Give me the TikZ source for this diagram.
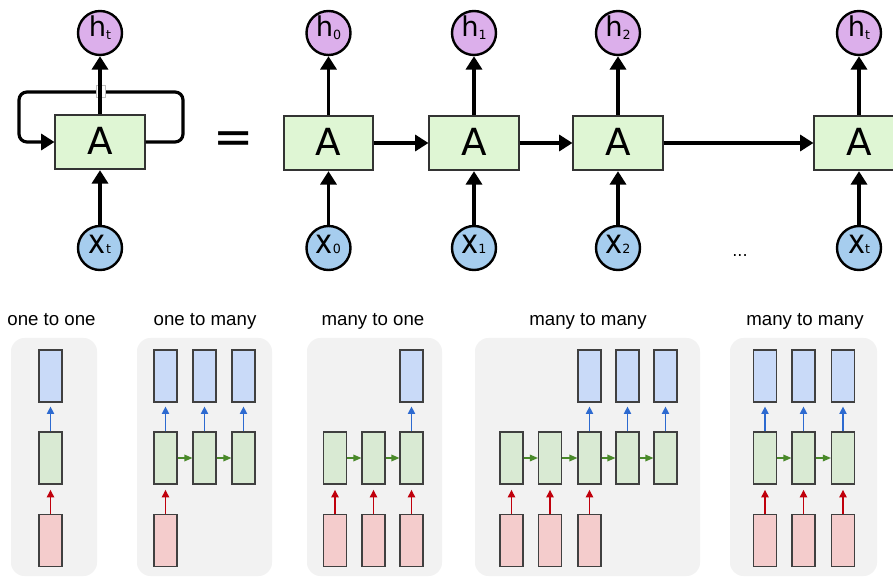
\documentclass[tikz,border=0pt]{standalone}
\usepackage{fontspec}
\setmainfont{DejaVu Sans}
\newfontfamily\capfont{Liberation Sans}
\usetikzlibrary{arrows.meta}

\definecolor{cellA}{HTML}{DFF6D4}
\definecolor{hcol}{HTML}{DCAFEB}
\definecolor{xcol}{HTML}{A6CDEE}
\definecolor{panelgray}{HTML}{F2F2F2}
\definecolor{outfill}{HTML}{C9DAF8}
\definecolor{midfill}{HTML}{D9EAD3}
\definecolor{infill}{HTML}{F4CCCC}
\definecolor{outarrow}{HTML}{2D6AD0}
\definecolor{inarrow}{HTML}{C0000C}
\definecolor{midarrow}{HTML}{4A8A2A}

% labels inside the state circles
\newcommand\hlab[1]{{\fontsize{20.5}{20.5}\selectfont h}{\fontsize{9.5}{9.5}\selectfont\raisebox{-1.8pt}{#1}}}
\newcommand\xlab[1]{{\fontsize{24}{24}\selectfont\scalebox{0.9}[1.05]{x}}{\fontsize{9.5}{9.5}\selectfont #1}}

\begin{document}
\begin{tikzpicture}[x=0.75pt,y=-0.75pt,
  rnncell/.style={draw=black!80, line width=1.3pt, fill=cellA,
    minimum width=67pt, minimum height=41pt, inner sep=0pt,
    text height=19.5pt, text depth=0pt, font=\fontsize{28}{28}\selectfont},
  hstate/.style={circle, draw=black, line width=1.8pt, fill=hcol,
    minimum size=33pt, inner sep=0pt, text height=6pt, text depth=0pt},
  xstate/.style={circle, draw=black, line width=1.8pt, fill=xcol,
    minimum size=33pt, inner sep=0pt, text height=9pt, text depth=0pt},
  flow/.style={line width=2.4pt, -{Triangle[length=10pt,width=12pt]}},
  loopline/.style={line width=2.4pt, rounded corners=6pt},
  panel/.style={fill=panelgray, rounded corners=10pt},
  ptitle/.style={anchor=base, font=\capfont\fontsize{14}{14}\selectfont},
  smallcell/.style={draw=black!75, line width=0.9pt,
    minimum width=17.25pt, minimum height=39pt, inner sep=0pt},
  thin/.style={line width=0.9pt, -{Triangle[length=5.5pt,width=5.5pt]}},
]
\useasboundingbox (0,0) rectangle (893,577);

% ---------- rolled network ----------
\node[rnncell] (Ar) at (100,142) {A};
\node[hstate] (hr) at (100,33) {\hlab{t}};
\node[xstate] (xr) at (100,248) {\xlab{t}};
\draw[loopline, -{Triangle[length=10pt,width=12pt]}]
  (Ar.east) -- (183,142) -- (183,92) -- (19,92) -- (19,142) -- (Ar.west);
\node[draw=black!25, fill=white, line width=0.5pt, minimum width=6.5pt,
  minimum height=9.5pt, inner sep=0pt] (jump) at (101,91.5) {};
\draw[flow] (Ar) -- (hr);
\draw[flow] (xr) -- (Ar);

\node[anchor=base, font=\fontsize{36}{36}\selectfont] (eq) at (233.5,154) {=};

% ---------- unrolled network ----------
\foreach \n/\x/\s in {0/328.5/0, 1/474/1, 2/618/2, t/859/t}{
  \node[rnncell] (A\n) at (\x,143) {A};
  \node[hstate] (h\n) at (\x,33) {\hlab{\s}};
  \node[xstate] (x\n) at (\x,248) {\xlab{\s}};
  \draw[flow] (A\n) -- (h\n);
  \draw[flow] (x\n) -- (A\n);
}
\draw[flow] (A0) -- (A1);
\draw[flow] (A1) -- (A2);
\draw[flow] (A2) -- (At);
\node[anchor=base, font=\fontsize{12}{12}\selectfont] (dots) at (740,257) {...};

% ---------- sequence configurations ----------
\fill[panel] (11,338) rectangle (97,576);
\fill[panel] (137,338) rectangle (272,576);
\fill[panel] (307,338) rectangle (442,576);
\fill[panel] (475,338) rectangle (700,576);
\fill[panel] (730,338) rectangle (877,576);

\node[ptitle] (t1) at (51.5,326) {one to one};
\node[ptitle] (t2) at (205,326) {one to many};
\node[ptitle] (t3) at (373,326) {many to one};
\node[ptitle] (t4) at (588,326) {many to many};
\node[ptitle] (t5) at (805,326) {many to many};

\foreach \n/\x/\o/\i in {a1/50.5/1/1,
    b1/165.5/1/1, b2/204.5/1/0, b3/243.5/1/0,
    c1/335/0/1, c2/373.5/0/1, c3/411.5/1/1,
    d1/511.5/0/1, d2/550/0/1, d3/589.5/1/1, d4/627.5/1/0, d5/665.5/1/0,
    e1/765/1/1, e2/803.5/1/1, e3/843/1/1}{
  \node[smallcell, fill=midfill] (m\n) at (\x,458) {};
  \ifnum\o=1
    \node[smallcell, fill=outfill] (o\n) at (\x,376) {};
    \draw[thin, draw=outarrow, fill=outarrow, shorten >=3pt] (m\n) -- (o\n);
  \fi
  \ifnum\i=1
    \node[smallcell, fill=infill] (i\n) at (\x,540.5) {};
    \draw[thin, draw=inarrow, fill=inarrow, shorten >=4pt] (i\n) -- (m\n);
  \fi
}
\foreach \a/\b in {b1/b2, b2/b3, c1/c2, c2/c3, d1/d2, d2/d3, d3/d4, d4/d5, e1/e2, e2/e3}
  \draw[thin, draw=midarrow, fill=midarrow, -{Triangle[length=6pt,width=5pt]}] (m\a) -- (m\b);
\end{tikzpicture}
\end{document}
